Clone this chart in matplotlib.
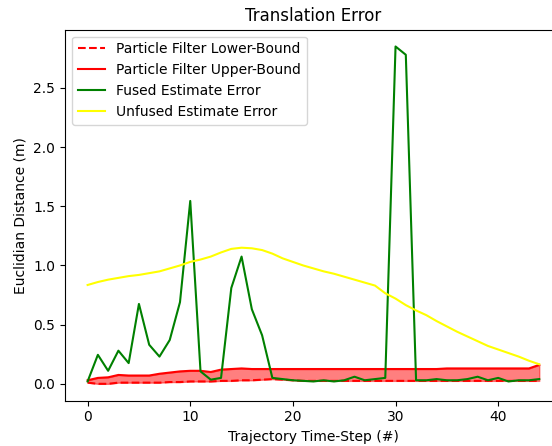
import matplotlib.pyplot as plt

steps = list(range(45))

pf_lower = [0.01, 0.0, 0.0, 0.01, 0.01, 0.01, 0.01, 0.01, 0.015, 0.015,
            0.02, 0.02, 0.02, 0.025, 0.025, 0.03, 0.03, 0.035, 0.04, 0.035,
            0.03, 0.025, 0.025, 0.025, 0.025, 0.025, 0.025, 0.025, 0.025, 0.025,
            0.025, 0.025, 0.025, 0.025, 0.025, 0.025, 0.025, 0.025, 0.025, 0.025,
            0.025, 0.025, 0.025, 0.025, 0.025]

pf_upper = [0.03, 0.05, 0.055, 0.075, 0.07, 0.07, 0.07, 0.085, 0.095, 0.105,
            0.11, 0.11, 0.1, 0.12, 0.125, 0.13, 0.125, 0.125, 0.125, 0.125,
            0.125, 0.125, 0.125, 0.125, 0.125, 0.125, 0.125, 0.125, 0.125, 0.125,
            0.125, 0.125, 0.125, 0.125, 0.125, 0.13, 0.13, 0.13, 0.13, 0.13,
            0.13, 0.13, 0.13, 0.13, 0.16]

fused = [0.02, 0.245, 0.11, 0.28, 0.175, 0.675, 0.33, 0.23, 0.37, 0.69,
         1.545, 0.105, 0.035, 0.05, 0.81, 1.075, 0.63, 0.41, 0.05, 0.04,
         0.03, 0.025, 0.02, 0.03, 0.02, 0.03, 0.06, 0.03, 0.04, 0.05,
         2.85, 2.78, 0.03, 0.03, 0.04, 0.03, 0.03, 0.04, 0.06, 0.03,
         0.05, 0.02, 0.03, 0.03, 0.04]

unfused = [0.835, 0.86, 0.88, 0.895, 0.91, 0.92, 0.935, 0.95, 0.975, 1.0,
           1.03, 1.05, 1.075, 1.11, 1.14, 1.15, 1.145, 1.13, 1.1, 1.06,
           1.03, 1.0, 0.975, 0.95, 0.93, 0.905, 0.88, 0.855, 0.83, 0.765,
           0.72, 0.665, 0.62, 0.58, 0.53, 0.485, 0.44, 0.4, 0.36, 0.32,
           0.29, 0.26, 0.23, 0.195, 0.165]

fig = plt.figure(figsize=(5.52, 4.46), dpi=100)
# the axes runs past the right edge of the figure, like the cropped original
ax = fig.add_axes([0.1178, 0.1016, 0.90, 0.832])

ax.plot(steps, pf_lower, 'r--', label="Particle Filter Lower-Bound")
ax.plot(steps, pf_upper, 'r-', label="Particle Filter Upper-Bound")
ax.fill_between(steps, pf_lower, pf_upper, color='red', alpha=0.5)
ax.plot(steps, fused, color='green', label="Fused Estimate Error")
ax.plot(steps, unfused, color='yellow', label="Unfused Estimate Error")

ax.set_title("Translation Error")
ax.set_xlabel("Trajectory Time-Step (#)")
ax.set_ylabel("Euclidian Distance (m)")
ax.legend(loc='upper left')

fig.savefig("out.png")
